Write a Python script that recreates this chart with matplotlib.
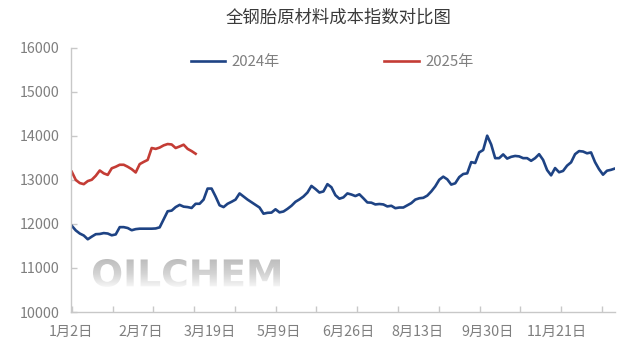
import numpy as np
import matplotlib
matplotlib.use("Agg")
import matplotlib.pyplot as plt
from matplotlib.textpath import TextPath
from matplotlib.patches import PathPatch
from matplotlib.font_manager import FontProperties
from matplotlib.transforms import Affine2D
from matplotlib.colors import LinearSegmentedColormap

plt.rcParams['font.family'] = ['Noto Sans CJK SC', 'DejaVu Sans']

title = "全钢胎原材料成本指数对比图"
series_names = ["2024年", "2025年"]
x_labels = ["1月2日", "2月7日", "3月19日", "5月9日", "6月26日", "8月13日", "9月30日", "11月21日"]
y_ticks = [10000, 11000, 12000, 13000, 14000, 15000, 16000]
watermark = "OILCHEM"

values_2024 = [
    11955, 11850, 11780, 11735, 11650, 11710, 11765, 11770, 11790, 11780,
    11740, 11760, 11925, 11925, 11905, 11855, 11880, 11890, 11890, 11890,
    11890, 11895, 11920, 12100, 12285, 12300, 12380, 12430, 12390, 12380,
    12360, 12455, 12455, 12550, 12800, 12800, 12620, 12420, 12380, 12455,
    12500, 12550, 12690, 12620, 12550, 12490, 12430, 12370, 12230, 12250,
    12255, 12330, 12260, 12280, 12340, 12410, 12500, 12555, 12620, 12710,
    12860, 12790, 12710, 12735, 12900, 12830, 12650, 12570, 12600, 12690,
    12665, 12630, 12670, 12580, 12485, 12480, 12440, 12450, 12440, 12395,
    12410, 12355, 12370, 12370, 12420, 12470, 12550, 12580, 12590, 12640,
    12735, 12850, 13000, 13070, 13010, 12890, 12920, 13060, 13130, 13145,
    13400, 13380, 13620, 13675, 14000, 13800, 13490, 13490, 13575, 13480,
    13520, 13540, 13530, 13490, 13490, 13430, 13490, 13580, 13450, 13220,
    13100, 13265, 13170, 13200, 13320, 13395, 13580, 13650, 13640, 13600,
    13620, 13400, 13240, 13115, 13205, 13225, 13255,
]

values_2025 = [
    13180, 12995, 12925, 12900, 12970, 13000, 13090, 13210, 13145, 13110,
    13260, 13295, 13340, 13340, 13295, 13240, 13165, 13355, 13405, 13450,
    13720, 13700, 13730, 13780, 13810, 13800, 13720, 13755, 13795, 13700,
    13650, 13590,
]

color_2024 = "#1E4384"
color_2025 = "#C43C35"
axis_color = "#C8C8C8"
text_color = "#7F7F7F"

fig = plt.figure(figsize=(6.3, 3.55), dpi=100)

# watermark with vertical gradient, clipped to the text outline
wax = fig.add_axes([93/630, 1 - 289/355, 187/630, 30/355], zorder=0)
wax.set_axis_off()
grad = np.linspace(0, 1, 64).reshape(-1, 1)
cmap = LinearSegmentedColormap.from_list("wm", ["#BDBDBD", "#D4D4D4", "#FBFBFB"])
img = wax.imshow(grad, aspect='auto', cmap=cmap, extent=[0, 1, 0, 1], origin='upper')
tp = TextPath((0, 0), watermark, size=1, prop=FontProperties(family='DejaVu Sans', weight='bold'))
bb = tp.get_extents()
tr = Affine2D().translate(-bb.x0, -bb.y0).scale(1 / bb.width, 0.93 / bb.height).translate(0, 0.07)
patch = PathPatch(tp, transform=tr + wax.transAxes, facecolor='none', edgecolor='none')
wax.add_patch(patch)
img.set_clip_path(patch)
wax.set_xlim(0, 1)
wax.set_ylim(0, 1)

ax = fig.add_axes([71/630, 1 - 312/355, (615-71)/630, (312-47.5)/355], zorder=1)
ax.patch.set_alpha(0)

x24 = np.arange(len(values_2024))
x25 = np.arange(len(values_2025))
l1, = ax.plot(x24, values_2024, color=color_2024, lw=1.9, solid_joinstyle='round')
l2, = ax.plot(x25, values_2025, color=color_2025, lw=1.9, solid_joinstyle='round')

ax.set_xlim(0, len(values_2024) - 1)
ax.set_ylim(10000, 16000)
ax.set_yticks(y_ticks)
ax.set_yticklabels([str(v) for v in y_ticks])

# tick marks (major, no labels) and labels (minor, no marks)
ax.set_xticks(np.arange(14) * 10.21)
ax.set_xticklabels([])
ax.set_xticks(np.arange(len(x_labels)) * 17.37 - 0.2, minor=True)
ax.set_xticklabels(x_labels, minor=True)
ax.tick_params(axis='x', which='major', direction='in', length=4, color=axis_color, width=1)
ax.tick_params(axis='x', which='minor', length=0, pad=9, labelsize=10.3, labelcolor=text_color)
ax.tick_params(axis='y', direction='in', length=4, color=axis_color, width=1, pad=8,
               labelsize=10.3, labelcolor=text_color)

for s in ['top', 'right']:
    ax.spines[s].set_visible(False)
for s in ['left', 'bottom']:
    ax.spines[s].set_color(axis_color)
    ax.spines[s].set_linewidth(1)

fig.text(338.5/630, 1 - 18/355, title, ha='center', va='center', fontsize=12.5, color='#3A3A3A')

leg = fig.legend([l1, l2], series_names, loc='center', bbox_to_anchor=(332/630, 1 - 62/355),
                 ncol=2, frameon=False, handlelength=2.3, handletextpad=0.4,
                 columnspacing=7.0, fontsize=10.8)
for t in leg.get_texts():
    t.set_color(text_color)

fig.savefig("out.png", dpi=100)
